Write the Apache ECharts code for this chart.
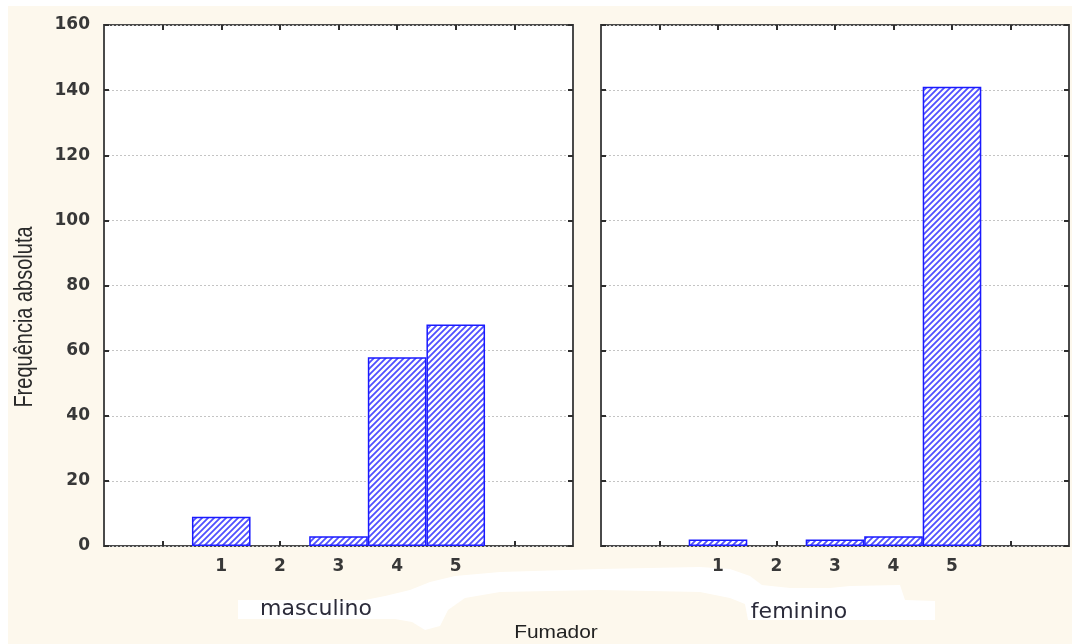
<!DOCTYPE html>
<html>
<head>
<meta charset="utf-8">
<script src="https://cdn.jsdelivr.net/npm/echarts@6/dist/echarts.min.js"></script>
<style>
  html, body { margin: 0; padding: 0; background: #ffffff; }
  #chart { width: 1072px; height: 644px; }
</style>
</head>
<body>
<div id="chart"></div>
<script>
// Frequency of smoking categories (Fumador 1..5) per sex
const fumadorClasses = [1, 2, 3, 4, 5];
const masculino = [9, 0, 3, 58, 68];
const feminino = [2, 0, 2, 3, 141];
const panelNames = ['masculino', 'feminino'];
const xTickValues = [0, 1, 2, 3, 4, 5, 6];
const xAxisTitle = 'Fumador';
const yAxisTitle = 'Frequência absoluta';

// diagonal hatch fill used by the bars
function hatchPattern() {
  const c = document.createElement('canvas');
  c.width = 6; c.height = 6;
  const g = c.getContext('2d');
  g.fillStyle = '#ffffff';
  g.fillRect(0, 0, 6, 6);
  g.strokeStyle = '#5050ff';
  g.lineWidth = 1.8;
  g.beginPath();
  g.moveTo(-1, 7); g.lineTo(7, -1);
  g.moveTo(-4, 4); g.lineTo(4, -4);
  g.moveTo(2, 10); g.lineTo(10, 2);
  g.stroke();
  return c;
}
const hatch = { image: hatchPattern(), repeat: 'repeat' };

const chart = echarts.init(document.getElementById('chart'), null, { renderer: 'canvas' });

const frameColor = '#4a4a4a';
const tickStyle = { color: '#2e2e2e', width: 2 };
const labelFont = { fontFamily: 'DejaVu Sans', fontSize: 17, fontWeight: 'bold', color: '#383838' };

const grids = [
  { left: 104, top: 25, width: 469, height: 521 },
  { left: 601, top: 25, width: 468, height: 521 }
].map(g => Object.assign(g, {
  show: true, backgroundColor: '#ffffff', borderColor: frameColor, borderWidth: 2
}));

const xAxes = [];
const yAxes = [];
[0, 1].forEach(gi => {
  ['bottom', 'top'].forEach(pos => {
    xAxes.push({
      type: 'value', gridIndex: gi, position: pos,
      min: -1, max: 7,
      axisLine: { show: false, onZero: false },
      splitLine: { show: false },
      axisTick: { show: true, inside: true, length: 5, lineStyle: tickStyle, customValues: xTickValues },
      axisLabel: pos === 'bottom'
        ? Object.assign({ show: true, margin: 12, customValues: fumadorClasses }, labelFont)
        : { show: false }
    });
  });
  ['left', 'right'].forEach(pos => {
    yAxes.push({
      type: 'value', gridIndex: gi, position: pos,
      min: 0, max: 160, interval: 20,
      axisLine: { show: false, onZero: false },
      axisTick: { show: true, inside: true, length: 5, lineStyle: tickStyle },
      splitLine: pos === 'left'
        ? { show: true, lineStyle: { color: '#c4c4c4', type: [2, 2], width: 1 } }
        : { show: false },
      axisLabel: (pos === 'left' && gi === 0)
        ? Object.assign({ show: true, margin: 14 }, labelFont)
        : { show: false }
    });
  });
});

function barSeries(values, gi) {
  return {
    type: 'bar',
    xAxisIndex: gi * 2,
    yAxisIndex: gi * 2,
    barWidth: 58.6,
    data: fumadorClasses.map((c, i) => [c, values[i]]).filter(d => d[1] > 0),
    itemStyle: { color: hatch, borderColor: '#1a1aff', borderWidth: 1.5 },
    silent: true,
    animation: false
  };
}

// white patch behind the panel captions
const patch = [
  [238,600],[365,600],[385,596],[410,590],[430,582],[455,576],[500,572],[600,569],
  [700,567],[730,569],[750,576],[762,585],[790,588],[830,588],[850,586],[900,585],
  [905,600],[935,601],[935,620],[748,620],[745,604],[730,598],[700,592],[600,590],
  [500,592],[465,598],[448,610],[440,626],[425,630],[412,622],[395,619],[238,619]
];

chart.setOption({
  animation: false,
  backgroundColor: '#fdf8ed',
  grid: grids,
  xAxis: xAxes,
  yAxis: yAxes,
  series: [barSeries(masculino, 0), barSeries(feminino, 1)],
  graphic: [
    { type: 'rect', shape: { x: 0, y: 0, width: 8, height: 644 }, style: { fill: '#ffffff' }, z: -1 },
    { type: 'rect', shape: { x: 0, y: 0, width: 1072, height: 6 }, style: { fill: '#ffffff' }, z: -1 },
    { type: 'polygon', shape: { points: patch }, style: { fill: '#ffffff' }, z: 0 },
    {
      type: 'text', x: 316, y: 609, z: 5,
      style: { text: panelNames[0], font: '22px "DejaVu Sans"', fill: '#2b2b3a', textAlign: 'center', textVerticalAlign: 'middle' }
    },
    {
      type: 'text', x: 799, y: 612, z: 5,
      style: { text: panelNames[1], font: '22px "DejaVu Sans"', fill: '#2b2b3a', textAlign: 'center', textVerticalAlign: 'middle' }
    },
    {
      type: 'text', x: 556, y: 633, scaleX: 1.1, z: 5,
      style: { text: xAxisTitle, font: '19px "Liberation Sans"', fill: '#222222', textAlign: 'center', textVerticalAlign: 'middle' }
    },
    {
      type: 'text', x: 25, y: 317, rotation: Math.PI / 2, scaleY: 1.25, z: 5,
      style: { text: yAxisTitle, font: '20px "Liberation Sans"', fill: '#2a2a2a', textAlign: 'center', textVerticalAlign: 'middle' }
    }
  ]
});
</script>
</body>
</html>
